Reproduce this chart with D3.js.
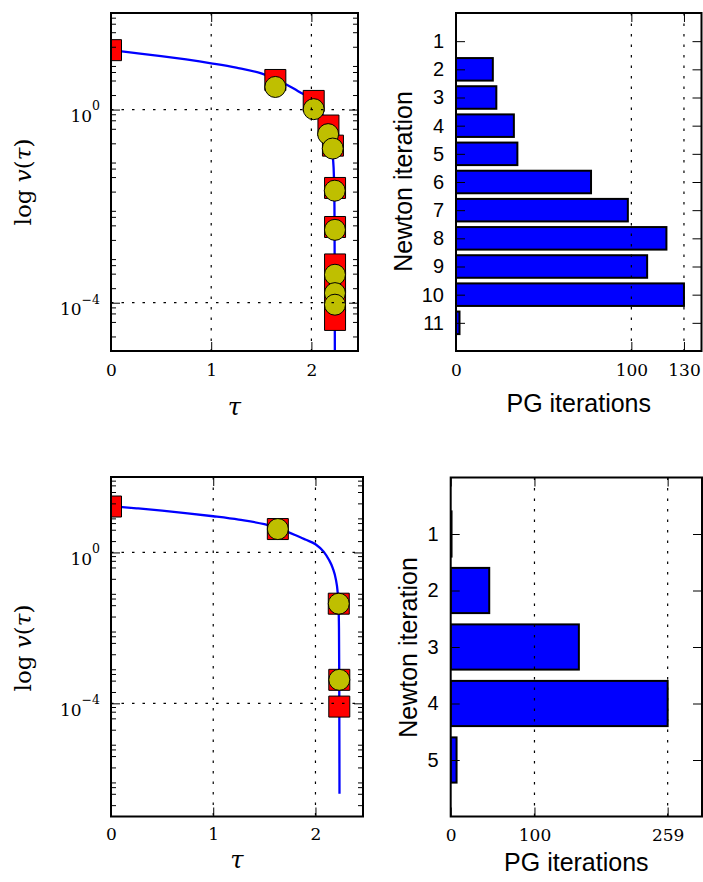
<!DOCTYPE html>
<html><head><meta charset="utf-8">
<script src="https://cdn.jsdelivr.net/npm/d3@7"></script>
<style>body{margin:0;background:#fff}svg{display:block}</style>
</head><body>
<svg id="c" width="703" height="882"></svg>
<script>
// ---------------- data ----------------
const curveTau = [0, 0.25, 0.5, 0.75, 1.0, 1.25, 1.5, 1.65, 1.8, 1.9, 2.0, 2.08, 2.13, 2.17, 2.2, 2.215, 2.225, 2.23, 2.232, 2.233, 2.234, 2.235];
const curveV   = [17, 14.8, 12.8, 10.9, 9.1, 7.4, 5.6, 4.2, 2.9, 2.2, 1.65, 1.05, 0.65, 0.38, 0.19, 0.1, 0.04, 0.01, 1e-3, 1e-4, 1e-5, 4e-7];

const topSquareTau = [0, 1.64, 2.023, 2.17, 2.215, 2.236, 2.236, 2.236, 2.236, 2.236, 2.236];
const topSquareV   = [17, 4.1, 1.51, 0.467, 0.179, 0.0238, 0.0037, 6.2e-4, 2.6e-4, 1.1e-4, 4.4e-5];
const topCircleTau = [1.64, 2.023, 2.167, 2.213, 2.233, 2.235, 2.235, 2.235, 2.235];
const topCircleV   = [2.94, 1.02, 0.31, 0.156, 0.0209, 0.00323, 3.8e-4, 1.58e-4, 9.1e-5];

const botSquareTau = [0, 1.632, 2.228, 2.233, 2.233];
const botSquareV   = [16.5, 4.17, 0.0438, 4.2e-4, 8.2e-5];
const botCircleTau = [1.632, 2.228, 2.233];
const botCircleV   = [4.17, 0.0438, 4.2e-4];

const topNewton = [1, 2, 3, 4, 5, 6, 7, 8, 9, 10, 11];
const topPG     = [0, 21, 23, 33, 35, 77, 98, 120, 109, 130, 2];
const botNewton = [1, 2, 3, 4, 5];
const botPG     = [1, 46, 153, 259, 7];

const tauTicks = [0, 1, 2];
const tauMax = 2.465;
const logMajor = [1, 1e-4];
const logMajorExp = ["0", "\u22124"];
const logMinorSubs = [2, 4, 6, 8];
const topLogDomain = [1e-5, 1e2];
const botLogDomain = [1e-7, 1e2];
const topPGTicks = [0, 100, 130];
const topPGMax = 140;
const botPGTicks = [0, 100, 259];
const botPGMax = 300;

// ---------------- layout ----------------
const TL = {x0:111, x1:358, y0:13, y1:351};
const TR = {x0:456, x1:701.5, y0:13, y1:351};
const BL = {x0:111, x1:363, y0:477, y1:816.5};
const BR = {x0:450.7, x1:702, y0:477.5, y1:816.5};
const SERIF = "'DejaVu Serif', serif";
const SANS = "'Liberation Sans', Arial, sans-serif";
const DOT = "2.5,8";
const TICKFS = 17;

const svg = d3.select('#c');
const defs = svg.append('defs');
function clipFor(id, b){
  defs.append('clipPath').attr('id', id).append('rect')
    .attr('x', b.x0).attr('y', b.y0).attr('width', b.x1 - b.x0).attr('height', b.y1 - b.y0);
  return `url(#${id})`;
}
function tickAxis(g, axis, tr){
  const a = g.append('g').attr('transform', tr).call(axis);
  a.select('.domain').remove();
  a.selectAll('.tick line').attr('stroke', '#000').attr('stroke-width', 1);
  return a;
}
function frame(g, b){
  g.append('rect').attr('x', b.x0).attr('y', b.y0).attr('width', b.x1 - b.x0).attr('height', b.y1 - b.y0)
    .attr('fill', 'none').attr('stroke', '#000').attr('stroke-width', 2);
}

function drawLog(b, dom, sqT, sqV, ciT, ciV, id, xPad, tauBase, yLabelX, yLabelY){
  const x = d3.scaleLinear().domain([0, tauMax]).range([b.x0, b.x1]);
  const y = d3.scaleLog().domain(dom).range([b.y1, b.y0]);
  const cp = clipFor(id, b);
  const g = svg.append('g');
  const pts = curveTau.map((t, i) => ({t, v: curveV[i]}));
  g.append('path').datum(pts).attr('clip-path', cp)
    .attr('d', d3.line().x(d => x(d.t)).y(d => y(d.v)).curve(d3.curveMonotoneX))
    .attr('fill', 'none').attr('stroke', '#0000ff').attr('stroke-width', 2.3);
  const mk = g.append('g').attr('clip-path', cp);
  mk.selectAll('path.sq').data(sqT.map((t, i) => ({t, v: sqV[i]}))).join('path')
    .attr('transform', d => `translate(${x(d.t)},${y(d.v)})`)
    .attr('d', d3.symbol(d3.symbolSquare, 21 * 21)())
    .attr('fill', '#ff0000').attr('stroke', '#000').attr('stroke-width', 1);
  mk.selectAll('circle').data(ciT.map((t, i) => ({t, v: ciV[i]}))).join('circle')
    .attr('cx', d => x(d.t)).attr('cy', d => y(d.v)).attr('r', 10.5)
    .attr('fill', '#bfbf00').attr('stroke', '#000').attr('stroke-width', 1);
  // grid
  g.selectAll('line.gx').data(tauTicks.filter(t => t > 0)).join('line')
    .attr('x1', d => x(d)).attr('x2', d => x(d)).attr('y1', b.y0).attr('y2', b.y1)
    .attr('stroke', '#000').attr('stroke-width', 1.2).attr('stroke-dasharray', DOT);
  g.selectAll('line.gy').data(logMajor).join('line')
    .attr('y1', d => y(d)).attr('y2', d => y(d)).attr('x1', b.x0).attr('x2', b.x1)
    .attr('stroke', '#000').attr('stroke-width', 1.2).attr('stroke-dasharray', DOT);
  // minor ticks
  const minor = [];
  for (let k = Math.floor(Math.log10(dom[0])); k <= Math.ceil(Math.log10(dom[1])); k++)
    logMinorSubs.forEach(s => { const v = s * Math.pow(10, k); if (v > dom[0] && v < dom[1]) minor.push(v); });
  // axes
  const bx = tickAxis(g, d3.axisBottom(x).tickValues(tauTicks).tickSize(-9).tickPadding(xPad).tickFormat(d3.format('d')), `translate(0,${b.y1})`);
  bx.selectAll('text').attr('font-family', SERIF).attr('font-size', TICKFS).attr('fill', '#000');
  tickAxis(g, d3.axisTop(x).tickValues(tauTicks).tickSize(-9).tickFormat(''), `translate(0,${b.y0})`);
  const ly = tickAxis(g, d3.axisLeft(y).tickValues(logMajor).tickSize(-9).tickPadding(11).tickFormat(''), `translate(${b.x0},0)`);
  ly.selectAll('.tick text').attr('font-family', SERIF).attr('font-size', TICKFS).attr('fill', '#000')
    .attr('dy', '0.7em').text(null)
    .each(function(d, i){
      const t = d3.select(this);
      t.append('tspan').text('10');
      t.append('tspan').attr('dy', -11.5).attr('font-size', 12.5).text(logMajorExp[i]);
    });
  tickAxis(g, d3.axisLeft(y).tickValues(minor).tickSize(-5).tickFormat(''), `translate(${b.x0},0)`);
  tickAxis(g, d3.axisRight(y).tickValues(logMajor).tickSize(-9).tickFormat(''), `translate(${b.x1},0)`);
  tickAxis(g, d3.axisRight(y).tickValues(minor).tickSize(-5).tickFormat(''), `translate(${b.x1},0)`);
  frame(g, b);
  // labels
  g.append('text').attr('x', (b.x0 + b.x1) / 2).attr('y', tauBase).attr('text-anchor', 'middle')
    .attr('font-family', SERIF).attr('font-style', 'italic').attr('font-size', 24).text('\u03c4');
  const yl = g.append('text').attr('transform', `translate(${yLabelX},${yLabelY}) rotate(-90)`)
    .attr('text-anchor', 'middle').attr('font-family', SERIF).attr('font-size', 23);
  yl.append('tspan').text('log ');
  yl.append('tspan').attr('font-style', 'italic').text('v');
  yl.append('tspan').text('(');
  yl.append('tspan').attr('font-style', 'italic').text('\u03c4');
  yl.append('tspan').text(')');
}

function drawBars(b, iters, vals, xmax, xticks, id, xPad, xLabBase, yLabX, yLabY){
  const x = d3.scaleLinear().domain([0, xmax]).range([b.x0, b.x1]);
  const y = d3.scaleLinear().domain([0, iters.length + 1]).range([b.y0, b.y1]);
  const bh = (y(1) - y(0)) * 0.8;
  const cp = clipFor(id, b);
  const g = svg.append('g');
  g.append('g').attr('clip-path', cp).selectAll('rect').data(iters.map((n, i) => ({n, v: vals[i]}))).join('rect')
    .attr('x', x(0)).attr('y', d => y(d.n) - bh / 2).attr('width', d => x(d.v) - x(0)).attr('height', bh)
    .attr('fill', '#0000ff').attr('stroke', '#000').attr('stroke-width', 2);
  g.selectAll('line.gx').data(xticks.filter(t => t > 0)).join('line')
    .attr('x1', d => x(d)).attr('x2', d => x(d)).attr('y1', b.y0).attr('y2', b.y1)
    .attr('stroke', '#000').attr('stroke-width', 1.2).attr('stroke-dasharray', DOT);
  const bx = tickAxis(g, d3.axisBottom(x).tickValues(xticks).tickSize(-9).tickPadding(xPad).tickFormat(d3.format('d')), `translate(0,${b.y1})`);
  bx.selectAll('text').attr('font-family', SERIF).attr('font-size', TICKFS).attr('fill', '#000');
  tickAxis(g, d3.axisTop(x).tickValues(xticks).tickSize(-9).tickFormat(''), `translate(0,${b.y0})`);
  const ly = tickAxis(g, d3.axisLeft(y).tickValues(iters).tickSize(-9).tickPadding(12).tickFormat(d3.format('d')), `translate(${b.x0},0)`);
  ly.selectAll('text').attr('font-family', SANS).attr('font-size', 20).attr('fill', '#000');
  tickAxis(g, d3.axisRight(y).tickValues(iters).tickSize(-9).tickFormat(''), `translate(${b.x1},0)`);
  frame(g, b);
  g.append('text').attr('x', (b.x0 + b.x1) / 2).attr('y', xLabBase).attr('text-anchor', 'middle')
    .attr('font-family', SANS).attr('font-size', 25).text('PG iterations');
  g.append('text').attr('transform', `translate(${yLabX},${yLabY}) rotate(-90)`).attr('text-anchor', 'middle')
    .attr('font-family', SANS).attr('font-size', 25).text('Newton iteration');
}

drawLog(TL, topLogDomain, topSquareTau, topSquareV, topCircleTau, topCircleV, 'ctl', 13, 415, 31, 182);
drawLog(BL, botLogDomain, botSquareTau, botSquareV, botCircleTau, botCircleV, 'cbl', 11.5, 868, 31, 648);
drawBars(TR, topNewton, topPG, topPGMax, topPGTicks, 'ctr', 12.5, 411.5, 411.5, 181.5);
drawBars(BR, botNewton, botPG, botPGMax, botPGTicks, 'cbr', 12, 871, 416.5, 647.5);
</script>
</body></html>
